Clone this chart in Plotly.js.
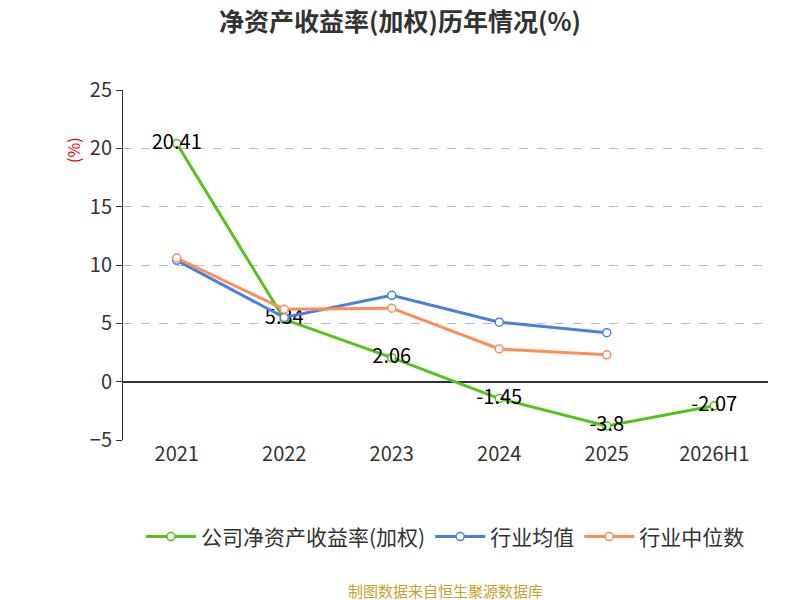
<!DOCTYPE html><html><head><meta charset="utf-8"><script src="https://cdn.plot.ly/plotly-3.0.1.min.js"></script></head><body style="margin:0"><div id="c" style="width:800px;height:600px"></div><script>
const categories=['2021','2022','2023','2024','2025','2026H1'];
const company=[20.41,5.34,2.06,-1.45,-3.8,-2.07];
const industryAvg=[10.4,5.5,7.4,5.1,4.2,null];
const industryMed=[10.6,6.2,6.3,2.8,2.3,null];
const f='"Noto Sans CJK SC","Noto Sans",sans-serif';
const mk=c=>({symbol:'circle',size:8,color:'#fff',line:{color:c,width:1.5}});
const data=[
{x:categories,y:company,name:'公司净资产收益率(加权)',mode:'lines+markers+text',text:company.map(String),textposition:'middle center',textfont:{size:20,color:'#000',family:f},line:{color:'#52c41a',width:3},marker:mk('#52c41a')},
{x:categories,y:industryAvg,name:'行业均值',mode:'lines+markers',line:{color:'#4a7fe0',width:3},marker:mk('#4a7fe0')},
{x:categories,y:industryMed,name:'行业中位数',mode:'lines+markers',line:{color:'#ff8c55',width:3},marker:mk('#ff8c55')}];
const layout={width:800,height:600,margin:{l:123,r:32,t:90,b:160},font:{family:f,color:'#333'},
title:{text:'<b>净资产收益率(加权)历年情况(%)</b>',x:0.5,xanchor:'center',y:0.963,yanchor:'middle',font:{size:25,color:'#333'}},
plot_bgcolor:'#fff',paper_bgcolor:'#fff',showlegend:true,
legend:{orientation:'h',x:0.5,xanchor:'center',y:-0.277,yanchor:'middle',itemwidth:50,font:{size:21,color:'#333'}},
xaxis:{type:'category',range:[-0.5,5.5],showgrid:false,tickfont:{size:20,color:'#333'},ticks:'',showline:false,zeroline:false},
yaxis:{range:[-5,25],dtick:5,gridcolor:'#bbb',griddash:'dash',tickfont:{size:20,color:'#333'},ticks:'outside',ticklen:6,tickcolor:'#333',showline:true,linecolor:'#333',zeroline:true,zerolinecolor:'#333',zerolinewidth:1.5},
annotations:[{text:'(%)',xref:'paper',yref:'paper',x:-0.1,y:0.87,showarrow:false,textangle:-90,font:{size:16,color:'#e00'}},
{text:'制图数据来自恒生聚源数据库',xref:'paper',yref:'paper',x:0.5,y:-0.43,yanchor:'middle',showarrow:false,font:{size:15,color:'#c9a030'}}]};
Plotly.newPlot('c',data,layout,{displayModeBar:false});
</script></body></html>
